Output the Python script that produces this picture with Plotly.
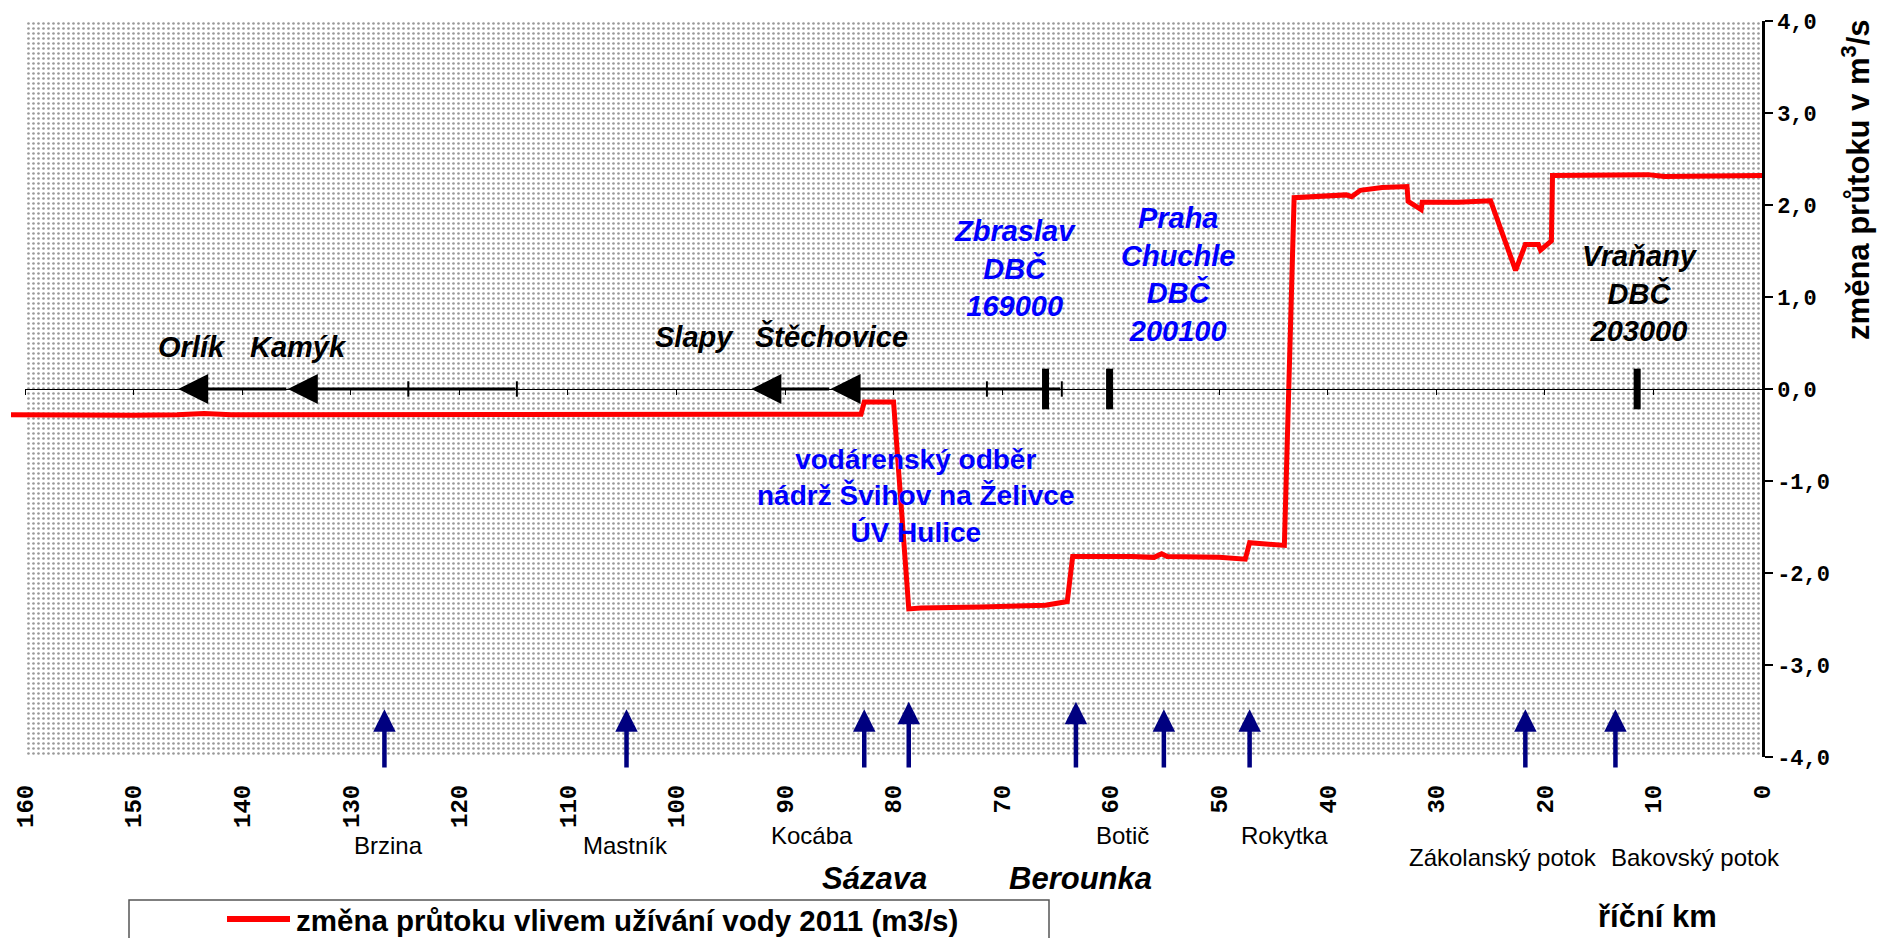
import plotly.graph_objects as go

# změna průtoku podél Vltavy (říční km -> m3/s)
river_km = [161.3, 155, 150, 146, 143.5, 141, 130, 120, 110, 100, 90, 83.0, 82.7, 80.0,
            78.6, 77.5, 72, 66, 64.0, 63.5, 58, 56, 55.3, 54.8, 50, 47.6, 47.2, 44.0,
            43.1, 40, 38.3, 37.8, 37.0, 35, 32.7, 32.6, 31.4, 31.3, 28, 25.0, 22.7,
            21.8, 20.6, 20.4, 19.4, 19.3, 15, 10.5, 9.0, 5, 0]
flow_change = [-0.28, -0.29, -0.285, -0.28, -0.265, -0.28, -0.28, -0.28, -0.275, -0.275,
               -0.275, -0.275, -0.14, -0.14, -2.39, -2.38, -2.37, -2.35, -2.31, -1.82,
               -1.82, -1.83, -1.79, -1.82, -1.83, -1.85, -1.67, -1.70, 2.08, 2.10, 2.11,
               2.09, 2.16, 2.19, 2.20, 2.04, 1.95, 2.03, 2.03, 2.045, 1.29, 1.57, 1.57,
               1.51, 1.61, 2.32, 2.32, 2.33, 2.31, 2.31, 2.32]

# přítoky
tributary_names = ["Brzina", "Mastník", "Kocába", "Sázava", "Berounka", "Botič", "Rokytka",
                   "Zákolanský potok", "Bakovský potok"]
tributary_km = [126.9, 104.6, 82.7, 78.6, 63.2, 55.1, 47.2, 21.8, 13.5]
tributary_major = [False, False, False, True, True, False, False, False, False]

# nádrže (šipky na ose)
reservoir_names = ["Orlík", "Kamýk", "Slapy", "Štěchovice"]
reservoir_km = [145.9, 135.8, 93.1, 85.8]
reservoir_reach_end_km = [135.8, 114.7, 85.8, 64.5]
reach_mark_km = [124.7, 114.7, 71.4, 64.5]

# vodoměrné stanice
station_names = ["Zbraslav<br>DBČ<br>169000", "Praha<br>Chuchle<br>DBČ<br>200100",
                 "Vraňany<br>DBČ<br>203000"]
station_km = [66.0, 60.1, 11.5]

withdrawal_text = "vodárenský odběr<br>nádrž Švihov na Želivce<br>ÚV Hulice"
legend_text = "změna průtoku vlivem užívání vody 2011 (m3/s)"

x_ticks = list(range(0, 161, 10))
y_ticks = [-4, -3, -2, -1, 0, 1, 2, 3, 4]
y_tick_labels = ["-4,0", "-3,0", "-2,0", "-1,0", "0,0", "1,0", "2,0", "3,0", "4,0"]

# ---- layout geometry (px) ----
L, R, T, B = 11, 1762, 16, 757
X_MAX = 161.3
SANS = "Liberation Sans, Arial, sans-serif"
MONO = "Liberation Mono, Courier New, monospace"
NAVY = "#000080"
BLUE = "#0000ff"


def paper_x(px):
    return (px - L) / (R - L)


def paper_y(py):
    return (B - py) / (B - T)


label_pos = {
    "Brzina": (126.5, 846), "Mastník": (104.7, 846), "Kocába": (87.5, 836),
    "Sázava": (81.8, 879), "Berounka": (62.8, 879), "Botič": (58.9, 836),
    "Rokytka": (44.0, 836), "Zákolanský potok": (23.9, 858), "Bakovský potok": (6.1, 858),
}
reservoir_label_pos = [(144.6, 0.46), (134.8, 0.46), (98.3, 0.57), (85.7, 0.57)]
station_label_pos = [(68.8, 1.31, BLUE), (53.8, 1.24, BLUE), (11.2, 1.04, "black")]

fig = go.Figure()

# tečkované pozadí grafu
fig.add_trace(go.Bar(
    x=[80], y=[8], base=[-4], width=[160], hoverinfo="skip", showlegend=False,
    marker=dict(color="white", line_width=0,
                pattern=dict(shape=".", fgcolor="#333333", bgcolor="white", size=5, solidity=0.22)),
))

fig.add_trace(go.Scatter(
    x=river_km, y=flow_change, mode="lines", showlegend=False,
    line=dict(color="#ff0000", width=5),
))

fig.add_trace(go.Scatter(
    x=station_km, y=[0] * len(station_km), mode="markers", showlegend=False,
    marker=dict(symbol="line-ns", size=29, line=dict(color="black", width=7)),
))

# osa v nule s rysky
fig.add_trace(go.Scatter(
    x=reach_mark_km, y=[0] * len(reach_mark_km), xaxis="x2", mode="markers", showlegend=False,
    marker=dict(symbol="line-ns", size=11, line=dict(color="black", width=2)),
))

annotations = []

for name, km, major in zip(tributary_names, tributary_km, tributary_major):
    annotations.append(dict(
        x=km, y=-3.40 if major else -3.48, ax=km, ay=-4.13, xref="x", yref="y", axref="x", ayref="y",
        showarrow=True, arrowhead=2, arrowsize=1.0, arrowwidth=4.5, arrowcolor=NAVY, text="",
    ))
    lx, ly = label_pos[name]
    if major:
        font = dict(family=SANS, size=31, color="black", weight="bold", style="italic")
    else:
        font = dict(family=SANS, size=24, color="black")
    annotations.append(dict(x=lx, y=paper_y(ly), xref="x", yref="paper", text=name,
                            showarrow=False, font=font, xanchor="center", yanchor="middle"))

for name, tip, tail, (lx, ly) in zip(reservoir_names, reservoir_km, reservoir_reach_end_km,
                                     reservoir_label_pos):
    annotations.append(dict(
        x=tip, y=0, ax=tail, ay=0, xref="x", yref="y", axref="x", ayref="y",
        showarrow=True, arrowhead=2, arrowsize=2.0, arrowwidth=3, arrowcolor="black", text="",
    ))
    annotations.append(dict(x=lx, y=ly, xref="x", yref="y", text=name, showarrow=False,
                            font=dict(family=SANS, size=29, color="black", weight="bold", style="italic")))

for name, (lx, ly, col) in zip(station_names, station_label_pos):
    annotations.append(dict(x=lx, y=ly, xref="x", yref="y", text=name, showarrow=False,
                            font=dict(family=SANS, size=29, color=col, weight="bold", style="italic")))

annotations.append(dict(x=78.0, y=-1.16, xref="x", yref="y", text=withdrawal_text, showarrow=False,
                        font=dict(family=SANS, size=28, color=BLUE, weight="bold")))

annotations.append(dict(x=9.6, y=paper_y(918), xref="x", yref="paper", text="říční km",
                        showarrow=False, xanchor="center", yanchor="middle",
                        font=dict(family=SANS, size=31, color="black", weight="bold")))

annotations.append(dict(x=paper_x(1856), y=paper_y(176), xref="paper", yref="paper",
                        text="změna průtoku v m<sup>3</sup>/s", textangle=-90, showarrow=False,
                        xanchor="center", yanchor="middle",
                        font=dict(family=SANS, size=31, color="black", weight="bold")))

# legenda
annotations.append(dict(x=paper_x(294), y=paper_y(922), xref="paper", yref="paper", text=legend_text,
                        showarrow=False, xanchor="left", yanchor="middle",
                        font=dict(family=SANS, size=29.5, color="black", weight="bold")))
annotations.append(dict(x=paper_x(258), y=paper_y(935), ax=0, ay=40,
                        xref="paper", yref="paper", axref="pixel", ayref="pixel", text="",
                        showarrow=True, arrowhead=2, arrowsize=1.0, arrowwidth=4.5, arrowcolor=NAVY))

shapes = [
    dict(type="rect", xref="paper", yref="paper", x0=paper_x(129), x1=paper_x(1049),
         y0=paper_y(901), y1=paper_y(990), line=dict(color="#555555", width=1.5), fillcolor="white",
         layer="below"),
    dict(type="line", xref="paper", yref="paper", x0=paper_x(227), x1=paper_x(290),
         y0=paper_y(920), y1=paper_y(920), line=dict(color="#ff0000", width=6)),
]

fig.update_layout(
    width=1885, height=938,
    margin=dict(l=L, r=1885 - R, t=T, b=938 - B),
    paper_bgcolor="white", plot_bgcolor="rgba(0,0,0,0)",
    showlegend=False, bargap=0,
    annotations=annotations, shapes=shapes,
    xaxis=dict(range=[X_MAX, 0], tickvals=x_ticks, ticktext=[str(v) for v in x_ticks],
               tickangle=-90, tickfont=dict(family=MONO, size=24, color="black", weight="bold"),
               ticks="", ticklabelstandoff=22, showline=False, showgrid=False, zeroline=False),
    xaxis2=dict(range=[160, 0], domain=[(X_MAX - 160) / X_MAX, 1], anchor="free", position=0.5,
                showline=True, linecolor="black", linewidth=1, ticks="outside", ticklen=5,
                tickcolor="black", dtick=10, tick0=0, showticklabels=False, showgrid=False,
                zeroline=False),
    yaxis=dict(range=[-4, 4], side="right", tickvals=y_ticks, ticktext=y_tick_labels,
               tickfont=dict(family=MONO, size=22, color="black", weight="bold"),
               ticks="outside", ticklen=8, tickwidth=2, tickcolor="black",
               showline=True, linecolor="black", linewidth=2.5, showgrid=False, zeroline=False),
)

fig.write_html("out.html", config={"displayModeBar": False},
               post_script="document.body.style.margin='0';")
